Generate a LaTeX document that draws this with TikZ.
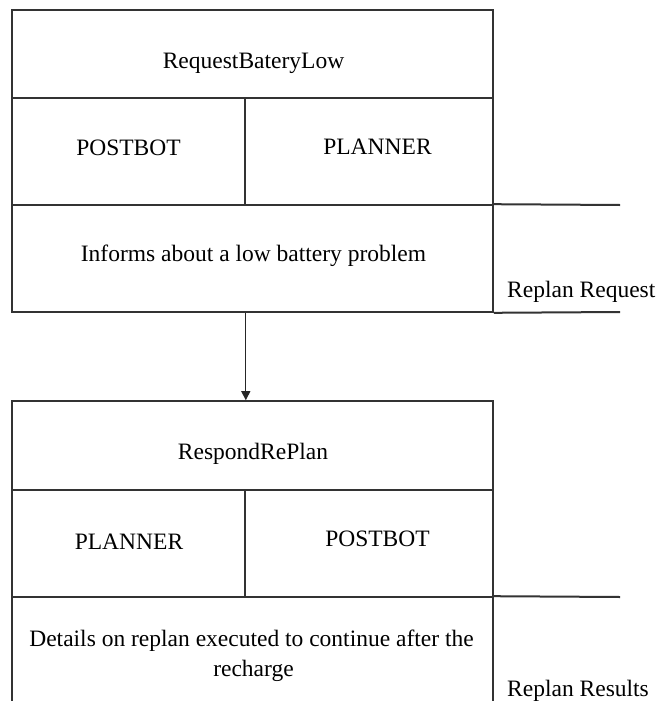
\documentclass[tikz,border=0pt]{standalone}
\usepackage{fontspec}
\setmainfont{Liberation Serif}
\newfontfamily\cellfont{Liberation Serif}
\usetikzlibrary{arrows.meta}
\begin{document}
\begin{tikzpicture}[x=1pt,y=-1pt,
  every node/.style={font=\cellfont\fontsize{23.5}{31}\selectfont},
  cell/.style={draw=black!80, line width=1.6pt, rectangle, inner sep=0pt},
  txt/.style={anchor=base, inner sep=0pt},
  rule/.style={draw=black!80, line width=2pt},
  flow/.style={draw=black!85, line width=1.3pt, -{Triangle[length=9pt,width=9pt]}},
  side/.style={anchor=base west, inner sep=0pt}]
\useasboundingbox (0,0) rectangle (671,701);
\clip (0,0) rectangle (671,701);
\fill[white] (0,0) rectangle (671,701);

% First message: RequestBateryLow
\node[cell, minimum width=481pt, minimum height=88pt]  (titleA) at (252.5,54)    {};
\node[cell, minimum width=233pt, minimum height=107pt] (leftA)  at (128.5,151.5) {};
\node[cell, minimum width=248pt, minimum height=107pt] (rightA) at (369,151.5)   {};
\node[cell, minimum width=481pt, minimum height=107pt] (descA)  at (252.5,258.5) {};
\node[txt] (tA) at (253.5,68)  {RequestBateryLow};
\node[txt] (lA) at (128.5,155) {POSTBOT};
\node[txt] (rA) at (377.5,154) {PLANNER};
\node[txt] (dA) at (253.5,261) {Informs about a low battery problem};

% Second message: RespondRePlan
\node[cell, minimum width=481pt, minimum height=89pt]  (titleB) at (252.5,445.5) {};
\node[cell, minimum width=233pt, minimum height=107pt] (leftB)  at (128.5,543.5) {};
\node[cell, minimum width=248pt, minimum height=107pt] (rightB) at (369,543.5)   {};
\node[cell, minimum width=481pt, minimum height=107pt] (descB)  at (252.5,650.5) {};
\node[txt] (tB)  at (253,459)   {RespondRePlan};
\node[txt] (lB)  at (129,549)   {PLANNER};
\node[txt] (rB)  at (377.5,546) {POSTBOT};
\node[txt] (dB1) at (251.5,646) {Details on replan executed to continue after the};
\node[txt] (dB2) at (253.5,676) {recharge};

% Side rules with the message kinds
\coordinate (ra1) at (620,205);
\coordinate (ra2) at (620,312);
\coordinate (rb1) at (620,597);
\draw[rule] (descA.north east) -- (ra1);
\draw[rule] (descA.south east) -- (ra2);
\draw[rule] (descB.north east) -- (rb1);
\node[side] (kindA) at (507,297) {Replan Request};
\node[side] (kindB) at (507,696) {Replan Results};

% Flow between the two messages
\draw[flow] (leftA.south east |- descA.south) -- (leftB.north east |- titleB.north);
\end{tikzpicture}
\end{document}
